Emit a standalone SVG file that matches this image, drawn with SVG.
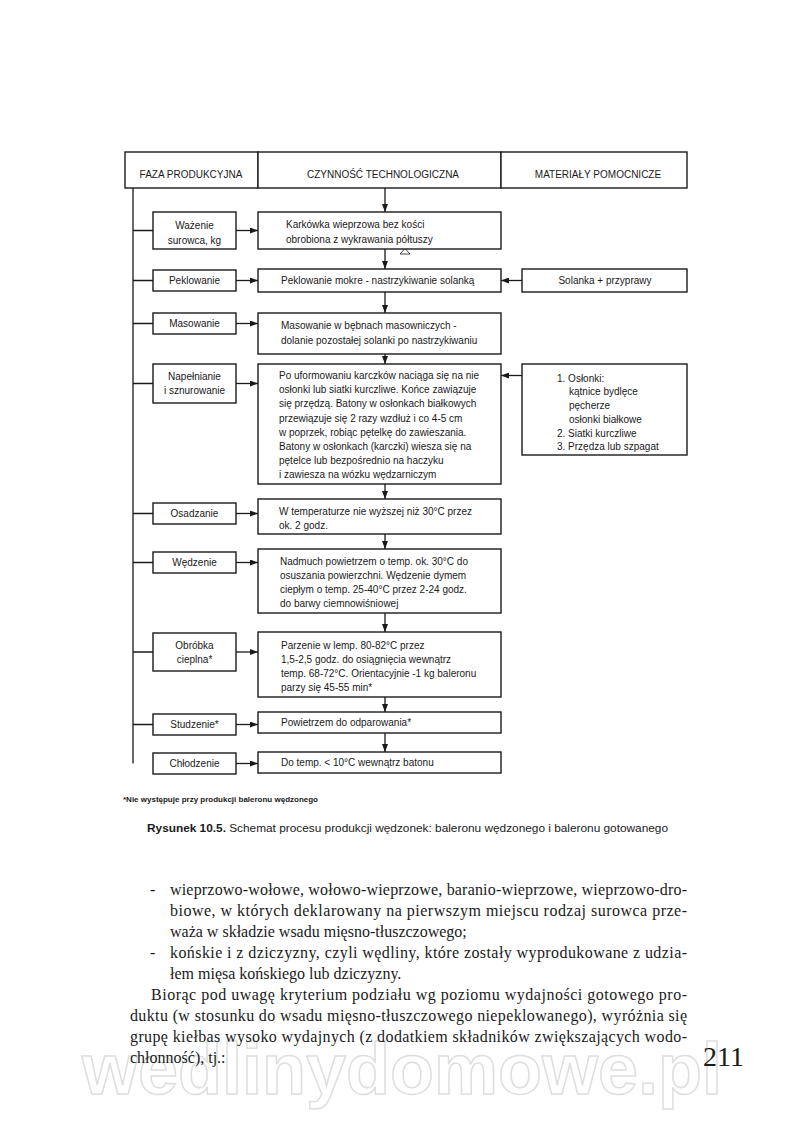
<svg xmlns="http://www.w3.org/2000/svg" width="800" height="1141" viewBox="0 0 800 1141">
<defs>
<marker id="ah" markerUnits="userSpaceOnUse" markerWidth="8" markerHeight="6" refX="8" refY="3" orient="auto">
<path d="M0,0 L8,3 L0,6 z" fill="#1a1a1a"/>
</marker>
<style>
.box{fill:#fff;stroke:#1a1a1a;stroke-width:1.4}
.ln{fill:none;stroke:#1a1a1a;stroke-width:1.3}
.ar{fill:none;stroke:#1a1a1a;stroke-width:1.3;marker-end:url(#ah)}
.t{font-family:"Liberation Sans",Arial,sans-serif;font-size:10px;fill:#1a1a1a}
.c{text-anchor:middle}
.h{font-family:"Liberation Sans",Arial,sans-serif;font-size:10px;fill:#1a1a1a;text-anchor:middle}
.body{font-family:"Liberation Serif","Times New Roman",serif;font-size:16px;fill:#1a1a1a}
.wm{font-family:"Liberation Sans",Arial,sans-serif;font-weight:bold;font-size:72px;fill:none;stroke:#dedede;stroke-width:1.5}
.fn{font-family:"Liberation Sans",Arial,sans-serif;font-size:8px;font-weight:bold;fill:#1a1a1a}
.cap{font-family:"Liberation Sans",Arial,sans-serif;font-size:11px;fill:#1a1a1a}
.pg{font-family:"Liberation Serif","Times New Roman",serif;font-size:28px;fill:#1a1a1a}
</style>
</defs>
<rect width="800" height="1141" fill="#fff"/>
<text class="wm" x="402" y="1094" text-anchor="middle">wedlinydomowe.pl</text>

<g id="header">
<rect class="box" x="125" y="152" width="133" height="36"/>
<rect class="box" x="258" y="152" width="243" height="36"/>
<rect class="box" x="501" y="152" width="186" height="36"/>
<text class="h" x="191" y="177.5">FAZA PRODUKCYJNA</text>
<text class="h" x="383" y="177.5">CZYNNOŚĆ TECHNOLOGICZNA</text>
<text class="h" x="598" y="177.5">MATERIAŁY POMOCNICZE</text>
</g>

<g id="connectors">
<path class="ln" d="M133,188 V763.5 M133,230.5 H153 M133,280.5 H153 M133,323.5 H153 M133,383.5 H153 M133,513.5 H153 M133,562.5 H153 M133,652 H153 M133,724.5 H153"/>
<path class="ar" d="M385,188 V212"/>
<path class="ar" d="M385,249 V269"/>
<path class="ar" d="M385,292 V313"/>
<path class="ar" d="M385,354 V364"/>
<path class="ar" d="M385,484 V499"/>
<path class="ar" d="M385,534 V549"/>
<path class="ar" d="M385,613 V632"/>
<path class="ar" d="M385,697 V712"/>
<path class="ar" d="M385,733 V752"/>
<path class="ar" d="M236,230.5 H258"/>
<path class="ar" d="M236,280.5 H258"/>
<path class="ar" d="M236,323.5 H258"/>
<path class="ar" d="M236,383.5 H258"/>
<path class="ar" d="M236,513.5 H258"/>
<path class="ar" d="M236,562.5 H258"/>
<path class="ar" d="M236,652 H258"/>
<path class="ar" d="M236,724.5 H258"/>
<path class="ar" d="M236,763.5 H258"/>
<path class="ar" d="M522,280.5 H501"/>
<path class="ar" d="M522,375.5 H501"/>
<path d="M400,254 L405,248.5 L410,254 Z" fill="none" stroke="#1a1a1a" stroke-width="0.8"/>
</g>

<g id="f1"><rect class="box" x="153" y="212" width="83" height="37"/>
<text class="t c" x="194.5" y="229">Ważenie</text><text class="t c" x="194.5" y="244">surowca, kg</text></g>
<g id="f2"><rect class="box" x="153" y="270" width="83" height="21"/>
<text class="t c" x="194.5" y="284">Peklowanie</text></g>
<g id="f3"><rect class="box" x="153" y="313" width="83" height="21"/>
<text class="t c" x="194.5" y="327">Masowanie</text></g>
<g id="f4"><rect class="box" x="153" y="364" width="83" height="39"/>
<text class="t c" x="194.5" y="380">Napełnianie</text><text class="t c" x="194.5" y="394">i sznurowanie</text></g>
<g id="f5"><rect class="box" x="153" y="503" width="83" height="21"/>
<text class="t c" x="194.5" y="517">Osadzanie</text></g>
<g id="f6"><rect class="box" x="153" y="552" width="83" height="21"/>
<text class="t c" x="194.5" y="566">Wędzenie</text></g>
<g id="f7"><rect class="box" x="153" y="633" width="83" height="38"/>
<text class="t c" x="194.5" y="649">Obróbka</text><text class="t c" x="194.5" y="663">cieplna*</text></g>
<g id="f8"><rect class="box" x="153" y="714" width="83" height="21"/>
<text class="t c" x="194.5" y="728">Studzenie*</text></g>
<g id="f9"><rect class="box" x="153" y="753" width="83" height="21"/>
<text class="t c" x="194.5" y="767">Chłodzenie</text></g>

<g id="m1"><rect class="box" x="258" y="212" width="243" height="37"/>
<text class="t" x="286" y="228">Karkówka wieprzowa bez kości</text><text class="t" x="286" y="243">obrobiona z wykrawania półtuszy</text></g>
<g id="m2"><rect class="box" x="258" y="269" width="243" height="23"/>
<text class="t" x="281" y="284">Peklowanie mokre - nastrzykiwanie solanką</text></g>
<g id="m3"><rect class="box" x="258" y="313" width="243" height="41"/>
<text class="t" x="281" y="329">Masowanie w bębnach masowniczych -</text><text class="t" x="281" y="344">dolanie pozostałej solanki po nastrzykiwaniu</text></g>
<g id="m4"><rect class="box" x="258" y="364" width="243" height="120"/>
<text class="t" x="279" y="379">Po uformowaniu karczków naciąga się na nie</text>
<text class="t" x="279" y="393.2">osłonki lub siatki kurczliwe. Końce zawiązuje</text>
<text class="t" x="279" y="407.4">się przędzą. Batony w osłonkach białkowych</text>
<text class="t" x="279" y="421.6">przewiązuje się 2 razy wzdłuż i co 4-5 cm</text>
<text class="t" x="279" y="435.8">w poprzek, robiąc pętelkę do zawieszania.</text>
<text class="t" x="279" y="450">Batony w osłonkach (karczki) wiesza się na</text>
<text class="t" x="279" y="464.2">pętelce lub bezpośrednio na haczyku</text>
<text class="t" x="279" y="478.4">i zawiesza na wózku wędzarniczym</text></g>
<g id="m5"><rect class="box" x="258" y="499" width="243" height="35"/>
<text class="t" x="279" y="515">W temperaturze nie wyższej niż 30°C przez</text><text class="t" x="279" y="529">ok. 2 godz.</text></g>
<g id="m6"><rect class="box" x="258" y="549" width="243" height="64"/>
<text class="t" x="280" y="565">Nadmuch powietrzem o temp. ok. 30°C do</text>
<text class="t" x="280" y="579">osuszania powierzchni. Wędzenie dymem</text>
<text class="t" x="280" y="593">ciepłym o temp. 25-40°C przez 2-24 godz.</text>
<text class="t" x="280" y="607">do barwy ciemnowiśniowej</text></g>
<g id="m7"><rect class="box" x="258" y="632" width="243" height="65"/>
<text class="t" x="281" y="648.5">Parzenie w lemp. 80-82°C przez</text>
<text class="t" x="281" y="662.5">1,5-2,5 godz. do osiągnięcia wewnątrz</text>
<text class="t" x="281" y="676.5">temp. 68-72°C. Orientacyjnie -1 kg baleronu</text>
<text class="t" x="281" y="690.5">parzy się 45-55 min*</text></g>
<g id="m8"><rect class="box" x="258" y="712" width="243" height="21"/>
<text class="t" x="281" y="726">Powietrzem do odparowania*</text></g>
<g id="m9"><rect class="box" x="258" y="752" width="243" height="21"/>
<text class="t" x="281" y="766">Do temp. &lt; 10°C wewnątrz batonu</text></g>

<g id="r1"><rect class="box" x="522" y="269" width="165" height="23"/>
<text class="t c" x="605" y="284">Solanka + przyprawy</text></g>
<g id="r2"><rect class="box" x="522" y="364" width="165" height="91"/>
<text class="t" x="557" y="381.5">1. Osłonki:</text>
<text class="t" x="569" y="395.3">kątnice bydlęce</text>
<text class="t" x="569" y="409">pęcherze</text>
<text class="t" x="569" y="422.8">osłonki białkowe</text>
<text class="t" x="557" y="436.6">2. Siatki kurczliwe</text>
<text class="t" x="557" y="450.4">3. Przędza lub szpagat</text></g>

<g id="captions">
<text class="fn" x="123" y="802" textLength="195" lengthAdjust="spacingAndGlyphs">*Nie występuje przy produkcji baleronu wędzonego</text>
<text class="cap" x="147" y="832" textLength="521" lengthAdjust="spacingAndGlyphs"><tspan font-weight="bold">Rysunek 10.5.</tspan> Schemat procesu produkcji wędzonek: baleronu wędzonego i baleronu gotowanego</text>
</g>

<g id="bodytext">
<text class="body" x="150" y="895">-</text>
<text class="body" x="170" y="895" textLength="517" lengthAdjust="spacing">wieprzowo-wołowe, wołowo-wieprzowe, baranio-wieprzowe, wieprzowo-dro-</text>
<text class="body" x="170" y="916" textLength="517" lengthAdjust="spacing">biowe, w których deklarowany na pierwszym miejscu rodzaj surowca prze-</text>
<text class="body" x="170" y="937">waża w składzie wsadu mięsno-tłuszczowego;</text>
<text class="body" x="150" y="958">-</text>
<text class="body" x="170" y="958" textLength="517" lengthAdjust="spacing">końskie i z dziczyzny, czyli wędliny, które zostały wyprodukowane z udzia-</text>
<text class="body" x="170" y="979">łem mięsa końskiego lub dziczyzny.</text>
<text class="body" x="151" y="1000" textLength="536" lengthAdjust="spacing">Biorąc pod uwagę kryterium podziału wg poziomu wydajności gotowego pro-</text>
<text class="body" x="130" y="1021" textLength="557" lengthAdjust="spacing">duktu (w stosunku do wsadu mięsno-tłuszczowego niepeklowanego), wyróżnia się</text>
<text class="body" x="130" y="1042" textLength="557" lengthAdjust="spacing">grupę kiełbas wysoko wydajnych  (z dodatkiem składników zwiększających wodo-</text>
<text class="body" x="130" y="1063">chłonność), tj.:</text>
<text class="pg" x="703" y="1066">211</text>
</g>
</svg>
